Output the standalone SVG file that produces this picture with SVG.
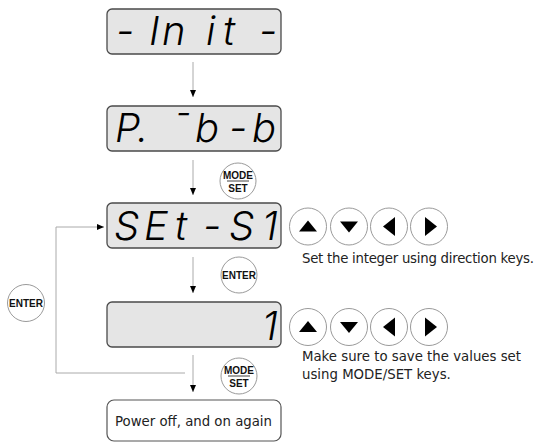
<svg xmlns="http://www.w3.org/2000/svg" width="552" height="445" viewBox="0 0 552 445">
  <style>
    .lcd { fill: #e5e5e5; stroke: #4a4a4a; stroke-width: 1.3; }
    .seg { font-family: Inter, "Liberation Sans", sans-serif; font-style: italic; font-weight: 300; font-size: 40px; fill: #000; }
    .btn { fill: #fff; stroke: #9a9a9a; stroke-width: 1; }
    .key { font-family: "Liberation Sans", Arial, sans-serif; font-weight: bold; font-size: 10px; fill: #111; text-anchor: middle; }
    .tri { fill: #000; }
    .note { font-family: "DejaVu Sans", "Liberation Sans", sans-serif; font-size: 13.3px; fill: #222; }
    .wire { fill: none; stroke: #aaa; stroke-width: 1; }
  </style>
  <defs>
    <marker id="head" markerUnits="userSpaceOnUse" markerWidth="8" markerHeight="8" refX="7" refY="3.5" orient="auto">
      <path d="M0,0.5 L7,3.5 L0,6.5 z" fill="#000"/>
    </marker>
    <g id="arrowKeys">
      <circle class="btn" cx="0" cy="0" r="18.5"/>
      <path class="tri" d="M-9,5 L9,5 L0,-6 z"/>
      <circle class="btn" cx="41" cy="0" r="18.5"/>
      <path class="tri" d="M32,-5 L50,-5 L41,6 z"/>
      <circle class="btn" cx="81" cy="0" r="18.5"/>
      <path class="tri" d="M75,0 L87,-9.5 L87,9.5 z"/>
      <circle class="btn" cx="121" cy="0" r="18.5"/>
      <path class="tri" d="M117,-9.5 L117,9.5 L129,0 z"/>
    </g>
  </defs>

  <!-- flow connectors -->
  <g id="connectors">
    <line class="wire" x1="193" y1="62" x2="193" y2="97" marker-end="url(#head)"/>
    <line class="wire" x1="193" y1="160" x2="193" y2="195" marker-end="url(#head)"/>
    <line class="wire" x1="193" y1="257" x2="193" y2="293" marker-end="url(#head)"/>
    <line class="wire" x1="193" y1="355" x2="193" y2="392" marker-end="url(#head)"/>
    <polyline class="wire" points="185,373 56,373 56,227 104,227" marker-end="url(#head)"/>
  </g>

  <!-- display: - Init - -->
  <g id="disp-init">
    <rect class="lcd" x="107" y="9" width="174" height="45" rx="5"/>
    <text class="seg" x="116 149 162 206 223 259" y="45">-Init-</text>
  </g>

  <!-- display: P. b-b -->
  <g id="disp-pbb">
    <rect class="lcd" x="107" y="106" width="174" height="45" rx="5"/>
    <text class="seg" x="115 137 172 195 229 252" y="142">P.¯b-b</text>
  </g>

  <!-- display: SEt-S1 -->
  <g id="disp-set">
    <rect class="lcd" x="107" y="203" width="174" height="45" rx="5"/>
    <text class="seg" x="114 144 175 203 229 262" y="240">SEt-S1</text>
  </g>

  <!-- display: value -->
  <g id="disp-value">
    <rect class="lcd" x="107" y="302" width="174" height="45" rx="5"/>
    <text class="seg" x="262" y="340">1</text>
  </g>

  <!-- final step -->
  <g id="power-cycle">
    <rect x="107" y="400" width="174" height="41" rx="7" fill="#fff" stroke="#555" stroke-width="1.2"/>
    <text class="note" x="115" y="426" font-size="13.5" textLength="157">Power off, and on again</text>
  </g>

  <!-- MODE/SET key after P.-b-b -->
  <g id="key-mode-1">
    <circle class="btn" cx="238" cy="181" r="18"/>
    <text class="key" x="238" y="178.5">MODE</text>
    <line x1="227" y1="181" x2="249" y2="181" stroke="#111" stroke-width="0.8"/>
    <text class="key" x="238" y="191.5">SET</text>
  </g>

  <!-- ENTER key after SEt-S1 -->
  <g id="key-enter-1">
    <circle class="btn" cx="239" cy="275" r="18"/>
    <text class="key" x="239" y="278.5" font-size="9.5">ENTER</text>
  </g>

  <!-- MODE/SET key after the value -->
  <g id="key-mode-2">
    <circle class="btn" cx="239" cy="376" r="18"/>
    <text class="key" x="239" y="373.5">MODE</text>
    <line x1="228" y1="376" x2="250" y2="376" stroke="#111" stroke-width="0.8"/>
    <text class="key" x="239" y="386.5">SET</text>
  </g>

  <!-- ENTER key on the loop back -->
  <g id="key-enter-loop">
    <circle class="btn" cx="26" cy="303" r="18.5"/>
    <text class="key" x="26" y="306.5" font-size="9.5">ENTER</text>
  </g>

  <!-- direction keys, row 1 -->
  <g id="keys-dir-1">
    <use href="#arrowKeys" x="308" y="226.5"/>
    <text class="note" x="302" y="263" textLength="232">Set the integer using direction keys.</text>
  </g>

  <!-- direction keys, row 2 -->
  <g id="keys-dir-2">
    <use href="#arrowKeys" x="308" y="327"/>
    <text class="note" x="302" y="361">Make sure to save the values set</text>
    <text class="note" x="302" y="379">using MODE/SET keys.</text>
  </g>
</svg>
